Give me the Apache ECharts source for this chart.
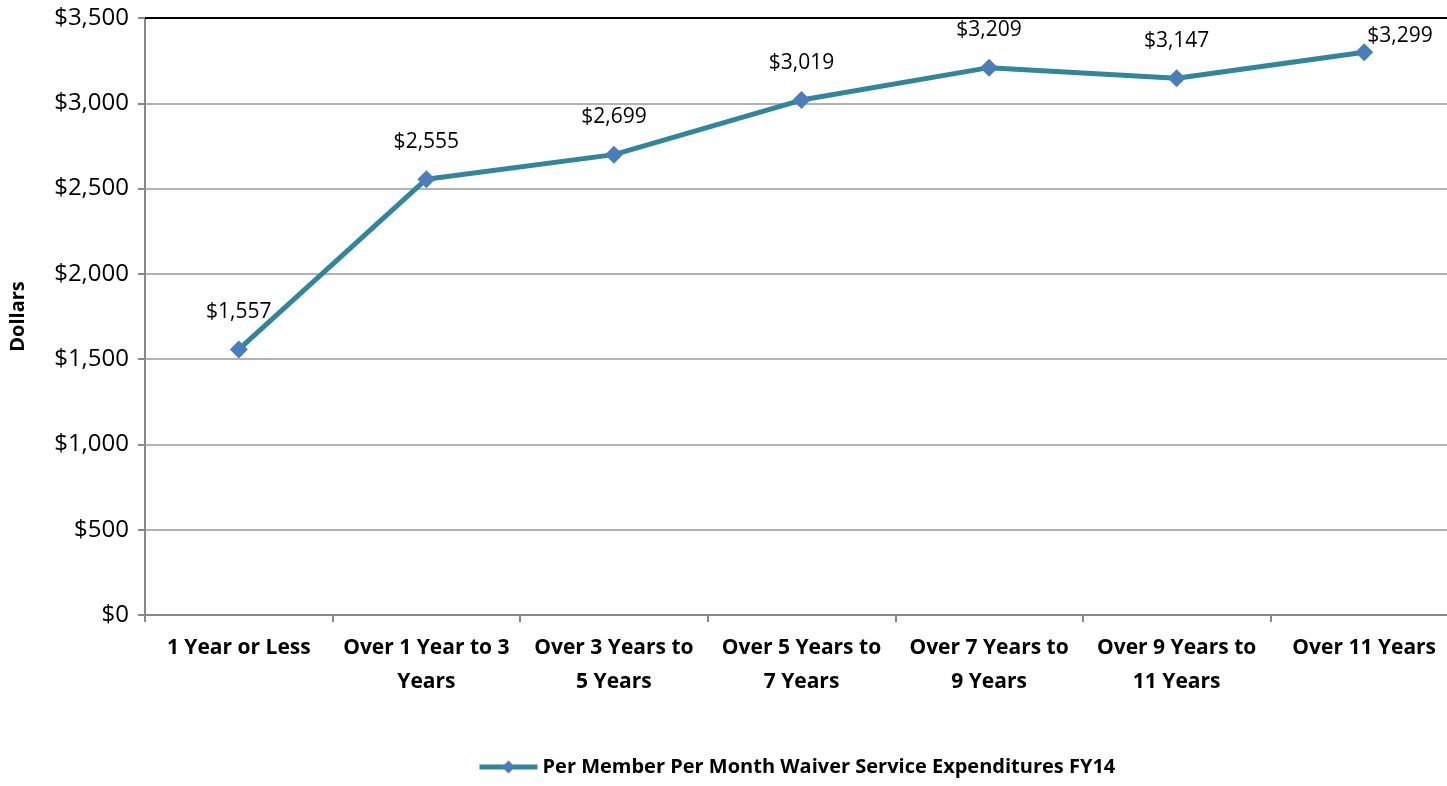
<!DOCTYPE html>
<html>
<head>
<meta charset="utf-8">
<script src="https://cdn.jsdelivr.net/npm/echarts@6/dist/echarts.min.js"></script>
<style>
  html, body { margin: 0; padding: 0; background: #fff; overflow: hidden; }
  #main { width: 1460px; height: 786px; }
</style>
</head>
<body>
<div id="main"></div>
<script>
const categories = ['1 Year or Less', 'Over 1 Year to 3\nYears', 'Over 3 Years to\n5 Years',
  'Over 5 Years to\n7 Years', 'Over 7 Years to\n9 Years', 'Over 9 Years to\n11 Years', 'Over 11 Years'];
const pmpm = [1557, 2555, 2699, 3019, 3209, 3147, 3299];
const seriesName = 'Per Member Per Month Waiver Service Expenditures FY14';

const font = 'Open Sans, Liberation Sans, sans-serif';
let chart = echarts.init(document.getElementById('main'));

const money = v => '$' + v.toLocaleString('en-US');

// the plot area runs a little past the right edge of the window, as in the original
let option = {
  animation: false,
  textStyle: { fontFamily: font },
  grid: { left: 143, right: 2, top: 18, bottom: 171 },
  legend: {
    bottom: 4, left: 472,
    itemWidth: 58, itemHeight: 16, itemGap: 4,
    lineStyle: { width: 5 },
    textStyle: { fontSize: 20, fontWeight: 'bold', color: '#000', fontFamily: font },
    data: [seriesName]
  },
  xAxis: [{
    type: 'category',
    data: categories,
    axisLine: { lineStyle: { color: '#888', width: 2 } },
    axisTick: { show: true, length: 7, lineStyle: { color: '#888', width: 2 } },
    axisLabel: { fontSize: 21, fontWeight: 'bold', color: '#000', lineHeight: 34, margin: 16, interval: 0 }
  }, {
    type: 'category',
    position: 'top',
    data: categories,
    axisLine: { lineStyle: { color: '#000', width: 2 } },
    axisTick: { show: false },
    axisLabel: { show: false }
  }],
  yAxis: {
    type: 'value',
    min: 0, max: 3500, interval: 500,
    name: 'Dollars',
    nameLocation: 'middle',
    nameGap: 117,
    nameTextStyle: { fontSize: 20, fontWeight: 'bold', color: '#000' },
    axisLine: { show: true, lineStyle: { color: '#888', width: 2 } },
    axisTick: { show: true, length: 7, lineStyle: { color: '#888', width: 2 } },
    splitLine: { lineStyle: { color: '#999', width: 1.5 } },
    axisLabel: { fontSize: 24, color: '#000', margin: 16, formatter: v => money(v) }
  },
  series: [{
    name: seriesName,
    type: 'line',
    data: pmpm.map((v, i) => i === pmpm.length - 1
      ? { value: v, label: { position: 'right', offset: [-24, -16] } }
      : v),
    symbol: 'diamond',
    symbolSize: 18,
    lineStyle: { color: '#31859C', width: 5 },
    itemStyle: { color: '#4A7EBB' },
    label: {
      show: true, position: 'top', distance: 18,
      fontSize: 21, color: '#000',
      formatter: p => money(p.value)
    }
  }]
};

chart.setOption(option);
</script>
</body>
</html>
